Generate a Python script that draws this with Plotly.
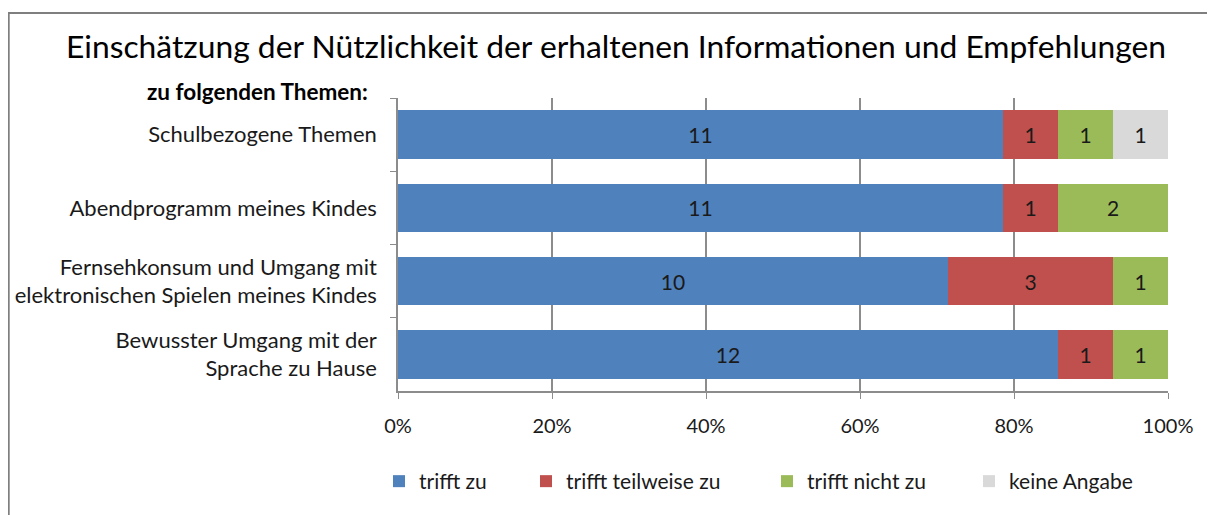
import plotly.graph_objects as go

categories = [
    "Schulbezogene Themen",
    "Abendprogramm meines Kindes",
    "Fernsehkonsum und Umgang mit<br>elektronischen Spielen meines Kindes",
    "Bewusster Umgang mit der<br>Sprache zu Hause",
]
series_names = ["trifft zu", "trifft teilweise zu", "trifft nicht zu", "keine Angabe"]
trifft_zu = [11, 11, 10, 12]
trifft_teilweise = [1, 1, 3, 1]
trifft_nicht = [1, 2, 1, 1]
keine_angabe = [1, 0, 0, 0]
series_values = [trifft_zu, trifft_teilweise, trifft_nicht, keine_angabe]
colors = ["#4F81BD", "#C0504D", "#9BBB59", "#D9D9D9"]
tick_vals = [0, 0.2, 0.4, 0.6, 0.8, 1.0]
tick_text = ["0%", "20%", "40%", "60%", "80%", "100%"]

FONT = "Lato"
# the page body adds an 8px offset, so the figure is 8px smaller
W, H = 1207, 507
L, R, T, B = 390, 47, 90, 124
pw, ph = W - L - R, H - T - B


def px_x(x):
    return (x - L) / pw


def px_y(y):
    return (H - B - y) / ph


legend_ids = ["legend", "legend2", "legend3", "legend4"]
legend_left = [371, 518, 759, 961]

fig = go.Figure()
for name, vals, col, lid in zip(series_names, series_values, colors, legend_ids):
    fig.add_trace(go.Bar(
        y=categories, x=vals, name=name, orientation="h",
        marker=dict(color=col, line=dict(width=0)),
        text=[str(v) if v else "" for v in vals],
        textposition="inside", insidetextanchor="middle",
        textfont=dict(family=FONT, size=21, color="#1a1a1a"),
        textangle=0, legend=lid,
        hoverinfo="skip",
    ))

legend_common = dict(
    orientation="h", yanchor="top", y=px_y(453), xanchor="left",
    font=dict(family=FONT, size=21, color="#1a1a1a"),
    bgcolor="rgba(0,0,0,0)", borderwidth=0,
)

fig.update_layout(
    width=W, height=H,
    barmode="stack", barnorm="fraction", bargap=0.338,
    margin=dict(l=L, r=R, t=T, b=B, autoexpand=False),
    paper_bgcolor="white", plot_bgcolor="white",
    font=dict(family=FONT, size=21, color="#1a1a1a"),
    title=dict(
        text="Einschätzung der Nützlichkeit der erhaltenen Informationen und Empfehlungen",
        font=dict(family=FONT, size=31.8, color="#000000"),
        x=608 / W, xanchor="center", xref="container",
        y=1 - 39 / H, yanchor="middle", yref="container",
    ),
    showlegend=True,
    legend=dict(x=px_x(legend_left[0]), **legend_common),
    legend2=dict(x=px_x(legend_left[1]), **legend_common),
    legend3=dict(x=px_x(legend_left[2]), **legend_common),
    legend4=dict(x=px_x(legend_left[3]), **legend_common),
)
fig.update_xaxes(
    range=[0, 1], tickvals=tick_vals, ticktext=tick_text,
    showgrid=True, gridcolor="#8c8c8c", gridwidth=1.5,
    showline=True, linecolor="#8c8c8c", linewidth=1.5,
    ticks="outside", ticklen=6, tickcolor="#8c8c8c",
    tickfont=dict(family=FONT, size=20, color="#1a1a1a"),
    zeroline=False, fixedrange=True, ticklabelstandoff=10,
)
fig.update_yaxes(
    categoryorder="array", categoryarray=categories, autorange="reversed",
    showline=True, linecolor="#8c8c8c", linewidth=1.5,
    ticks="outside", ticklen=6, tickcolor="#8c8c8c", tickson="boundaries",
    tickfont=dict(family=FONT, size=22, color="#1a1a1a"),
    showgrid=False, fixedrange=True, ticklabelstandoff=15,
)
fig.add_annotation(
    text="<b>zu folgenden Themen:</b>", xref="paper", yref="paper",
    x=px_x(362), y=px_y(84), xanchor="right", yanchor="middle",
    showarrow=False, font=dict(family=FONT, size=22.5, color="#000000"),
)
# chart frame (top and left edges)
fig.add_shape(type="line", xref="paper", yref="paper",
              x0=px_x(0), x1=px_x(W + 2), y0=px_y(5), y1=px_y(5),
              line=dict(color="#7f7f7f", width=2))
fig.add_shape(type="line", xref="paper", yref="paper",
              x0=px_x(0.6), x1=px_x(0.6), y0=px_y(4), y1=px_y(H + 2),
              line=dict(color="#7f7f7f", width=2.2))

fig.write_html("out.html")
